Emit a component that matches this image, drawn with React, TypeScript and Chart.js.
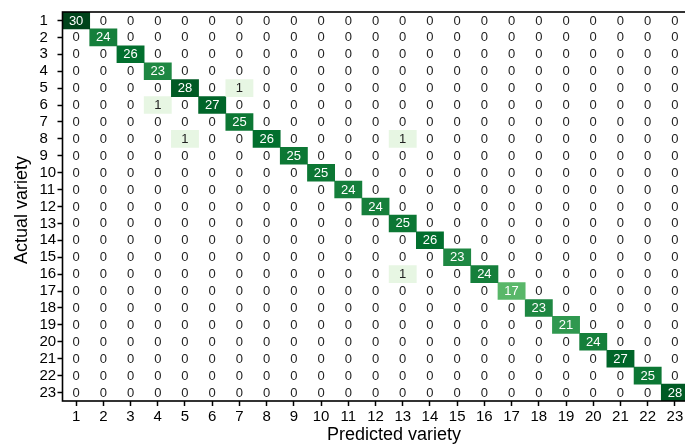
import React, { useEffect, useRef } from 'react';
import { Chart, registerables } from 'chart.js';

Chart.register(...registerables);

const predictedLabels = ['1','2','3','4','5','6','7','8','9','10','11','12','13','14','15','16','17','18','19','20','21','22','23'];
const actualLabels = ['1','2','3','4','5','6','7','8','9','10','11','12','13','14','15','16','17','18','19','20','21','22','23'];
const diagonalCounts = [30, 24, 26, 23, 28, 27, 25, 26, 25, 25, 24, 24, 25, 26, 23, 24, 17, 23, 21, 24, 27, 25, 28];
// [actual, predicted, count]
const misclassified: [number, number, number][] = [
  [5, 7, 1],
  [6, 4, 1],
  [8, 5, 1],
  [8, 13, 1],
  [16, 13, 1],
];
const xTitle = 'Predicted variety';
const yTitle = 'Actual variety';

const FONT = "'Liberation Sans', Arial, sans-serif";

function countAt(actual: number, predicted: number): number {
  if (actual === predicted) return diagonalCounts[actual - 1];
  const m = misclassified.find((e) => e[0] === actual && e[1] === predicted);
  return m ? m[2] : 0;
}

const GREENS = ['#f7fcf5', '#e5f5e0', '#c7e9c0', '#a1d99b', '#74c476', '#41ab5d', '#238b45', '#006d2c', '#00441b'];

function hexToRgb(h: string) {
  return [parseInt(h.slice(1, 3), 16), parseInt(h.slice(3, 5), 16), parseInt(h.slice(5, 7), 16)];
}

function greenColor(v: number, max: number): string {
  if (v === 0) return 'rgba(255,255,255,0)';
  const t = Math.max(0.11, Math.min(1, v / max)) * (GREENS.length - 1);
  const i = Math.min(GREENS.length - 2, Math.floor(t));
  const f = t - i;
  const a = hexToRgb(GREENS[i]);
  const b = hexToRgb(GREENS[i + 1]);
  const c = a.map((x, k) => Math.round(x + (b[k] - x) * f));
  return `rgb(${c[0]},${c[1]},${c[2]})`;
}

export default function App() {
  const ref = useRef<HTMLCanvasElement | null>(null);

  useEffect(() => {
    document.body.style.margin = '0';
    document.body.style.overflow = 'hidden';
    const canvas = ref.current;
    if (!canvas) return;
    const maxCount = Math.max(...diagonalCounts, ...misclassified.map((m) => m[2]));

    const datasets = actualLabels.map((_, ri) => {
      const actual = ri + 1;
      const values = predictedLabels.map((_, ci) => countAt(actual, ci + 1));
      return {
        label: 'Actual ' + actual,
        data: predictedLabels.map(() => [actual - 0.5, actual + 0.5]),
        counts: values,
        backgroundColor: values.map((v) => greenColor(v, maxCount)),
        borderWidth: 0,
        barPercentage: 1,
        categoryPercentage: 1,
        grouped: false,
      } as any;
    });

    const overlay = {
      id: 'overlay',
      afterDatasetsDraw(chart: any) {
        const ctx = chart.ctx;
        ctx.save();
        ctx.font = `13px ${FONT}`;
        ctx.textAlign = 'center';
        ctx.textBaseline = 'middle';
        chart.data.datasets.forEach((ds: any, di: number) => {
          const meta = chart.getDatasetMeta(di);
          meta.data.forEach((el: any, i: number) => {
            const v = ds.counts[i];
            ctx.fillStyle = v > maxCount / 2 ? '#ffffff' : '#222222';
            ctx.fillText(String(v), el.x, (el.y + el.base) / 2 + 0.5);
          });
        });
        const a = chart.chartArea;
        ctx.strokeStyle = '#000';
        ctx.lineWidth = 1.6;
        ctx.strokeRect(a.left, a.top, a.right - a.left, a.bottom - a.top);
        ctx.restore();
      },
      afterDraw(chart: any) {
        const ctx = chart.ctx;
        ctx.save();
        ctx.fillStyle = '#000';
        ctx.font = `18px ${FONT}`;
        ctx.textAlign = 'center';
        ctx.textBaseline = 'alphabetic';
        ctx.fillText(xTitle, 394, 440);
        ctx.translate(27, 210);
        ctx.rotate(-Math.PI / 2);
        ctx.fillText(yTitle, 0, 0);
        ctx.restore();
      },
    };

    const chart = new Chart(canvas, {
      type: 'bar',
      data: { labels: predictedLabels, datasets },
      options: {
        animation: false,
        responsive: false,
        maintainAspectRatio: false,
        layout: { padding: { left: 39.5, top: 12, right: 11.5, bottom: 0 } },
        plugins: { legend: { display: false }, tooltip: { enabled: false }, title: { display: false } },
        scales: {
          x: {
            type: 'category',
            offset: true,
            grid: { display: true, offset: false, drawOnChartArea: false, drawTicks: true, tickLength: 5, tickColor: '#000', tickWidth: 1.5 },
            border: { display: false },
            ticks: { color: '#000', font: { size: 15, family: FONT }, padding: 2, maxRotation: 0, autoSkip: false },
            afterFit: (scale: any) => { scale.height = 44; },
          },
          y: {
            type: 'linear',
            reverse: true,
            min: 0.5,
            max: 23.5,
            grid: { display: true, drawOnChartArea: false, drawTicks: true, tickLength: 5, tickColor: '#000', tickWidth: 1.5 },
            border: { display: false },
            afterBuildTicks: (scale: any) => {
              scale.ticks = actualLabels.map((_, i) => ({ value: i + 1 }));
            },
            ticks: {
              color: '#000',
              font: { size: 15, family: FONT },
              crossAlign: 'far',
              autoSkip: false,
              callback: (v: any) => actualLabels[Number(v) - 1],
            },
            afterFit: (scale: any) => { scale.width = 23; },
          },
        },
      } as any,
      plugins: [overlay],
    });
    return () => chart.destroy();
  }, []);

  return (
    <div style={{ position: 'fixed', left: 0, top: 0, width: 700, height: 445, background: '#fff' }}>
      <canvas ref={ref} width={700} height={445} style={{ width: 700, height: 445, display: 'block' }} />
    </div>
  );
}
